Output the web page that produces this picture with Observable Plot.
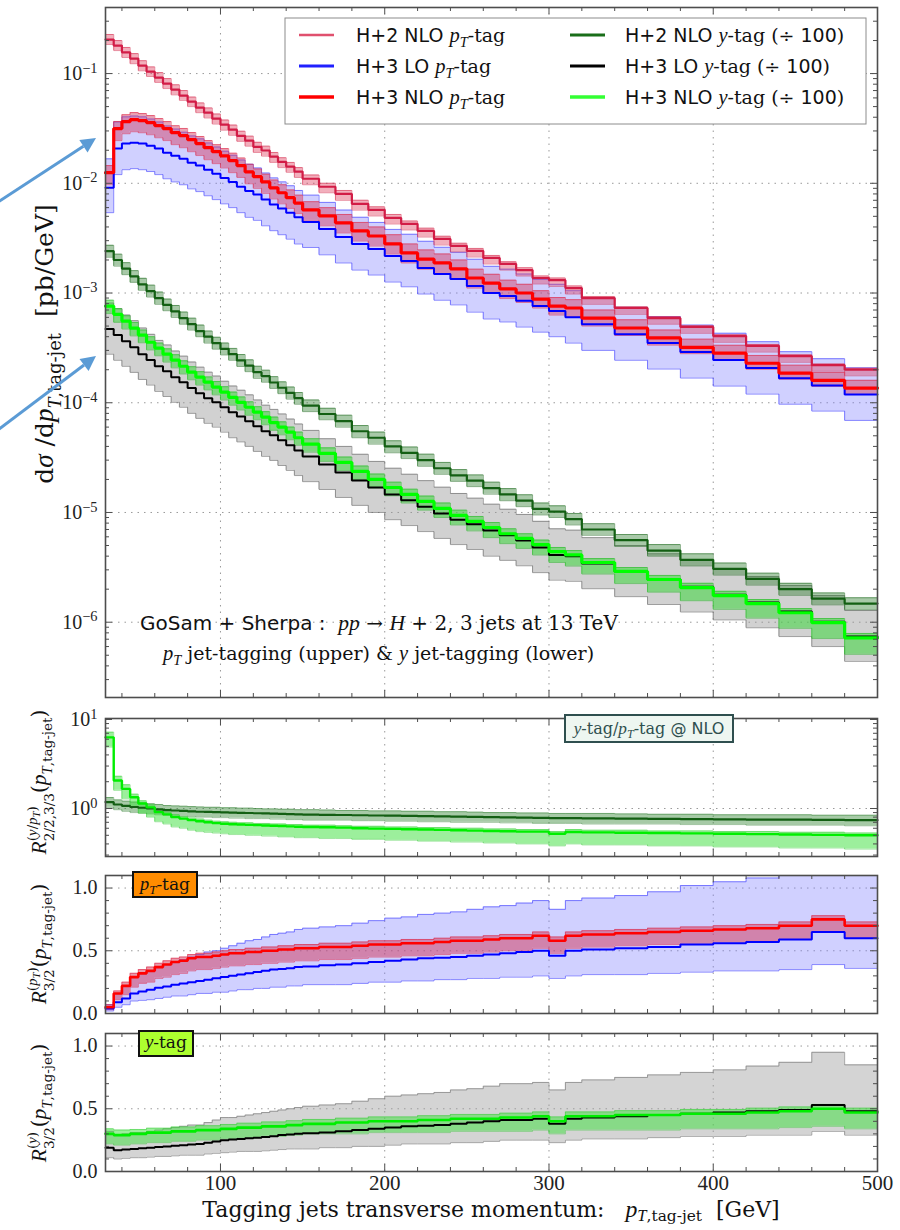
<!DOCTYPE html>
<html>
<head>
<meta charset="utf-8">
<script src="https://cdn.jsdelivr.net/npm/d3@7"></script>
<script src="https://cdn.jsdelivr.net/npm/@observablehq/plot@0.6"></script>
<style>
  body { margin: 0; background: #fff; }
  #fig { position: relative; width: 900px; height: 1230px; overflow: hidden; background: #fff; }
</style>
</head>
<body>
<div id="fig"></div>
<script>
// ---------- binning (GeV) ----------
const binEdges = [30,35,40,45,50,55,60,65,70,75,80,85,90,95,100,105,110,115,120,125,130,135,140,145,
  150,160,170,180,190,200,210,220,230,240,250,260,270,280,290,300,310,
  320,340,360,380,400,420,440,460,480,500];

// ---------- dsigma/dpT [pb/GeV] : pT jet-tagging ----------
const h2ptNLO = [0.204,0.180,0.156,0.137,0.118,0.104,0.0919,0.081,0.0714,0.063,0.0555,0.0489,0.0440,0.0388,0.0342,0.0308,0.0271,0.0245,0.0215,0.0199,0.0175,0.0157,0.0142,0.0128,
  0.0110,0.0093,0.0080,0.0065,0.00573,0.00484,0.00427,0.00368,0.00311,0.00269,0.00242,0.00209,0.00184,0.00162,0.00137,0.00131,0.00111,
  9.0e-4,7.3e-4,5.9e-4,4.9e-4,4.05e-4,3.3e-4,2.66e-4,2.2e-4,2.0e-4];
const h2ptNLOhi = [0.227,0.200,0.173,0.152,0.131,0.115,0.102,0.090,0.079,0.070,0.061,0.054,0.0486,0.0428,0.0377,0.0339,0.0298,0.0269,0.0236,0.0218,0.0191,0.0171,0.0155,0.0139,
  0.0119,0.0100,0.0086,0.0070,0.0061,0.0052,0.00453,0.00390,0.00329,0.00284,0.00255,0.00220,0.00193,0.00170,0.00143,0.00137,0.00116,
  9.3e-4,7.5e-4,6.1e-4,5.05e-4,4.17e-4,3.4e-4,2.74e-4,2.26e-4,2.06e-4];
const h2ptNLOlo = [0.184,0.162,0.140,0.123,0.106,0.094,0.083,0.073,0.064,0.057,0.050,0.044,0.0394,0.0347,0.0305,0.0274,0.0241,0.0218,0.0191,0.0177,0.0155,0.0139,0.0126,0.0113,
  0.0097,0.0082,0.0070,0.0057,0.00504,0.00426,0.00376,0.00324,0.00274,0.00237,0.00213,0.00184,0.00162,0.00143,0.00121,0.00115,0.00098,
  7.9e-4,6.4e-4,5.2e-4,4.3e-4,3.56e-4,2.9e-4,2.34e-4,1.94e-4,1.76e-4];

const h3ptLO = [0.0091,0.0207,0.0230,0.0234,0.0230,0.0220,0.0207,0.0190,0.0178,0.0167,0.0154,0.0145,0.0133,0.0122,0.0112,0.0103,0.0093,0.0085,0.0079,0.0071,0.0064,0.0059,0.0054,0.0049,
  0.00445,0.00384,0.00324,0.00280,0.00252,0.00218,0.00196,0.00169,0.00149,0.00134,0.00116,0.00100,9.4e-4,8.5e-4,7.6e-4,6.85e-4,6.0e-4,
  5.2e-4,4.2e-4,3.5e-4,2.9e-4,2.45e-4,2.07e-4,1.67e-4,1.44e-4,1.19e-4];
const h3ptLOhi = [0.0167,0.0362,0.0403,0.0410,0.0403,0.0385,0.0362,0.0333,0.0312,0.0292,0.0270,0.0254,0.0233,0.0214,0.0196,0.0180,0.0163,0.0149,0.0138,0.0124,0.0112,0.0103,0.0095,0.0086,
  0.0078,0.0067,0.0057,0.0049,0.0044,0.0038,0.00343,0.00296,0.00261,0.00235,0.00203,0.00175,0.00165,0.00149,0.00133,0.0012,0.00105,
  9.1e-4,7.4e-4,6.1e-4,5.1e-4,4.3e-4,3.6e-4,2.92e-4,2.52e-4,2.08e-4];
const h3ptLOlo = [0.0054,0.0120,0.0133,0.0136,0.0133,0.0128,0.0120,0.0110,0.0103,0.0097,0.0089,0.0084,0.0077,0.0071,0.0065,0.0060,0.0054,0.0049,0.0046,0.0041,0.0037,0.0034,0.0031,0.0028,
  0.0026,0.00223,0.00188,0.00162,0.00146,0.00126,0.00114,9.8e-4,8.6e-4,7.8e-4,6.7e-4,5.8e-4,5.45e-4,4.9e-4,4.4e-4,4.0e-4,3.5e-4,
  3.0e-4,2.44e-4,2.03e-4,1.68e-4,1.42e-4,1.2e-4,9.7e-5,8.4e-5,6.9e-5];

const h3ptNLO = [0.0125,0.0315,0.0364,0.0380,0.0372,0.0357,0.0335,0.0315,0.0289,0.0272,0.0250,0.0230,0.0211,0.0194,0.0178,0.0161,0.0145,0.0127,0.0115,0.0103,0.0091,0.0082,0.0074,0.0066,
  0.00573,0.00505,0.00436,0.00368,0.00331,0.00280,0.00232,0.00204,0.00188,0.00166,0.00137,0.00123,0.00109,0.00100,8.8e-4,7.6e-4,7.3e-4,
  5.9e-4,4.8e-4,3.9e-4,3.2e-4,2.83e-4,2.29e-4,1.86e-4,1.6e-4,1.36e-4];
const h3ptNLOhi = [0.0145,0.0366,0.0422,0.0441,0.0432,0.0414,0.0389,0.0365,0.0335,0.0316,0.0290,0.0267,0.0245,0.0225,0.0207,0.0188,0.0170,0.0149,0.0135,0.0121,0.0107,0.0097,0.0087,0.0078,
  0.0068,0.0060,0.0052,0.0044,0.0040,0.0034,0.0028,0.00247,0.00227,0.00200,0.00165,0.00148,0.00131,0.00120,0.00105,9.1e-4,8.7e-4,
  7.0e-4,5.7e-4,4.6e-4,3.8e-4,3.34e-4,2.7e-4,2.2e-4,1.89e-4,1.6e-4];
const h3ptNLOlo = [0.0097,0.0245,0.0283,0.0295,0.0289,0.0277,0.0260,0.0245,0.0225,0.0211,0.0194,0.0179,0.0164,0.0151,0.0138,0.0125,0.0113,0.0099,0.0090,0.0081,0.0072,0.0065,0.0059,0.0053,
  0.0046,0.0041,0.00353,0.00298,0.00268,0.00227,0.00188,0.00165,0.00152,0.00135,0.00111,0.00100,8.9e-4,8.2e-4,7.3e-4,6.3e-4,6.1e-4,
  5.0e-4,4.1e-4,3.35e-4,2.8e-4,2.49e-4,2.02e-4,1.64e-4,1.41e-4,1.2e-4];

// ---------- dsigma/dpT [pb/GeV] / 100 : y jet-tagging ----------
const h2yNLO = [2.41e-3,2.00e-3,1.67e-3,1.42e-3,1.20e-3,1.04e-3,9.0e-4,7.8e-4,6.8e-4,5.9e-4,5.2e-4,4.5e-4,4.0e-4,3.5e-4,3.1e-4,2.77e-4,2.43e-4,2.18e-4,1.90e-4,1.75e-4,1.53e-4,1.37e-4,1.23e-4,1.10e-4,
  9.4e-5,7.9e-5,6.8e-5,5.5e-5,4.8e-5,4.0e-5,3.5e-5,3.0e-5,2.53e-5,2.18e-5,1.95e-5,1.67e-5,1.46e-5,1.28e-5,1.08e-5,1.02e-5,8.7e-6,
  7.0e-6,5.6e-6,4.5e-6,3.7e-6,3.06e-6,2.48e-6,2.0e-6,1.64e-6,1.48e-6];
const h2yNLOhi = [2.72e-3,2.26e-3,1.89e-3,1.60e-3,1.36e-3,1.18e-3,1.02e-3,8.8e-4,7.7e-4,6.7e-4,5.9e-4,5.1e-4,4.5e-4,3.95e-4,3.5e-4,3.13e-4,2.75e-4,2.46e-4,2.15e-4,1.98e-4,1.73e-4,1.55e-4,1.39e-4,1.24e-4,
  1.06e-4,8.9e-5,7.7e-5,6.2e-5,5.4e-5,4.5e-5,3.95e-5,3.4e-5,2.86e-5,2.46e-5,2.2e-5,1.89e-5,1.65e-5,1.45e-5,1.22e-5,1.15e-5,9.8e-6,
  7.9e-6,6.3e-6,5.1e-6,4.2e-6,3.46e-6,2.8e-6,2.26e-6,1.85e-6,1.67e-6];
const h2yNLOlo = [2.12e-3,1.76e-3,1.47e-3,1.25e-3,1.06e-3,9.2e-4,7.9e-4,6.9e-4,6.0e-4,5.2e-4,4.6e-4,4.0e-4,3.5e-4,3.08e-4,2.73e-4,2.44e-4,2.14e-4,1.92e-4,1.67e-4,1.54e-4,1.35e-4,1.21e-4,1.08e-4,9.7e-5,
  8.3e-5,7.0e-5,6.0e-5,4.8e-5,4.2e-5,3.5e-5,3.1e-5,2.64e-5,2.23e-5,1.92e-5,1.72e-5,1.47e-5,1.28e-5,1.13e-5,9.5e-6,9.0e-6,7.7e-6,
  6.2e-6,4.9e-6,4.0e-6,3.26e-6,2.69e-6,2.18e-6,1.76e-6,1.44e-6,1.30e-6];

const h3yLO = [4.69e-4,4.14e-4,3.64e-4,3.21e-4,2.77e-4,2.45e-4,2.15e-4,1.94e-4,1.71e-4,1.54e-4,1.36e-4,1.22e-4,1.10e-4,1.01e-4,9.1e-5,8.2e-5,7.5e-5,6.8e-5,6.1e-5,5.5e-5,5.05e-5,4.55e-5,4.1e-5,3.68e-5,
  3.24e-5,2.74e-5,2.32e-5,1.96e-5,1.69e-5,1.46e-5,1.29e-5,1.13e-5,9.8e-6,8.6e-6,7.8e-6,6.85e-6,6.2e-6,5.55e-6,4.8e-6,4.1e-6,4.0e-6,
  3.42e-6,2.9e-6,2.45e-6,2.11e-6,1.78e-6,1.51e-6,1.25e-6,1.01e-6,7.4e-7];
const h3yLOhi = [8.1e-4,7.2e-4,6.3e-4,5.6e-4,4.8e-4,4.2e-4,3.7e-4,3.36e-4,2.96e-4,2.66e-4,2.35e-4,2.11e-4,1.90e-4,1.75e-4,1.57e-4,1.42e-4,1.30e-4,1.18e-4,1.06e-4,9.5e-5,8.7e-5,7.9e-5,7.1e-5,6.4e-5,
  5.6e-5,4.7e-5,4.0e-5,3.39e-5,2.92e-5,2.53e-5,2.23e-5,1.95e-5,1.70e-5,1.49e-5,1.35e-5,1.19e-5,1.07e-5,9.6e-6,8.3e-6,7.1e-6,6.9e-6,
  5.9e-6,5.0e-6,4.2e-6,3.65e-6,3.08e-6,2.61e-6,2.16e-6,1.75e-6,1.28e-6];
const h3yLOlo = [2.77e-4,2.44e-4,2.15e-4,1.89e-4,1.63e-4,1.45e-4,1.27e-4,1.14e-4,1.01e-4,9.1e-5,8.0e-5,7.2e-5,6.5e-5,6.0e-5,5.4e-5,4.8e-5,4.4e-5,4.0e-5,3.6e-5,3.25e-5,2.98e-5,2.68e-5,2.42e-5,2.17e-5,
  1.91e-5,1.62e-5,1.37e-5,1.16e-5,1.0e-5,8.6e-6,7.6e-6,6.7e-6,5.8e-6,5.1e-6,4.6e-6,4.0e-6,3.66e-6,3.27e-6,2.83e-6,2.42e-6,2.36e-6,
  2.02e-6,1.71e-6,1.45e-6,1.24e-6,1.05e-6,8.9e-7,7.4e-7,6.0e-7,4.4e-7];

const h3yNLO = [7.6e-4,6.4e-4,5.55e-4,4.79e-4,4.14e-4,3.56e-4,3.15e-4,2.77e-4,2.45e-4,2.15e-4,1.90e-4,1.71e-4,1.54e-4,1.39e-4,1.25e-4,1.12e-4,1.01e-4,9.1e-5,8.2e-5,7.4e-5,6.6e-5,6.0e-5,5.4e-5,4.8e-5,
  4.2e-5,3.46e-5,2.86e-5,2.37e-5,2.0e-5,1.69e-5,1.46e-5,1.26e-5,1.09e-5,9.4e-6,8.3e-6,7.3e-6,6.4e-6,5.8e-6,5.1e-6,4.4e-6,4.1e-6,
  3.5e-6,2.9e-6,2.45e-6,2.07e-6,1.75e-6,1.48e-6,1.22e-6,9.9e-7,7.2e-7];
const h3yNLOhi = [8.6e-4,7.2e-4,6.2e-4,5.4e-4,4.6e-4,4.0e-4,3.5e-4,3.1e-4,2.74e-4,2.41e-4,2.13e-4,1.92e-4,1.72e-4,1.56e-4,1.40e-4,1.25e-4,1.13e-4,1.02e-4,9.2e-5,8.3e-5,7.4e-5,6.7e-5,6.0e-5,5.4e-5,
  4.7e-5,3.88e-5,3.2e-5,2.65e-5,2.24e-5,1.89e-5,1.63e-5,1.41e-5,1.22e-5,1.05e-5,9.2e-6,8.1e-6,7.1e-6,6.4e-6,5.6e-6,4.8e-6,4.5e-6,
  3.8e-6,3.15e-6,2.67e-6,2.26e-6,1.91e-6,1.61e-6,1.33e-6,1.08e-6,7.9e-7];
const h3yNLOlo = [6.5e-4,5.4e-4,4.7e-4,4.07e-4,3.52e-4,3.03e-4,2.68e-4,2.35e-4,2.08e-4,1.83e-4,1.62e-4,1.45e-4,1.31e-4,1.18e-4,1.06e-4,9.5e-5,8.6e-5,7.7e-5,7.0e-5,6.3e-5,5.6e-5,5.1e-5,4.6e-5,4.1e-5,
  3.55e-5,2.92e-5,2.41e-5,2.0e-5,1.68e-5,1.42e-5,1.22e-5,1.05e-5,9.0e-6,7.7e-6,6.8e-6,5.9e-6,5.2e-6,4.7e-6,4.1e-6,3.5e-6,3.25e-6,
  2.75e-6,2.25e-6,1.88e-6,1.57e-6,1.31e-6,1.09e-6,8.8e-7,7.1e-7,5.1e-7];

// ---------- ratio y-tag / pT-tag at NLO ----------
const r1h2 = [1.18,1.11,1.07,1.04,1.02,1.00,0.98,0.96,0.95,0.94,0.93,0.92,0.915,0.91,0.905,0.90,0.895,0.89,0.885,0.88,0.875,0.87,0.865,0.86,
  0.855,0.85,0.845,0.84,0.835,0.83,0.825,0.82,0.815,0.81,0.805,0.80,0.795,0.79,0.785,0.78,0.78,
  0.775,0.77,0.765,0.76,0.755,0.75,0.75,0.745,0.74];
const r1h2hi = [1.33,1.25,1.21,1.18,1.15,1.13,1.11,1.08,1.07,1.06,1.05,1.04,1.03,1.03,1.02,1.02,1.01,1.01,1.0,0.99,0.99,0.98,0.98,0.97,
  0.97,0.96,0.95,0.95,0.94,0.94,0.93,0.93,0.92,0.92,0.91,0.90,0.90,0.89,0.89,0.88,0.88,
  0.88,0.87,0.86,0.86,0.85,0.85,0.85,0.84,0.84];
const r1h2lo = [1.03,0.97,0.93,0.90,0.89,0.87,0.85,0.84,0.83,0.82,0.81,0.80,0.80,0.79,0.79,0.78,0.78,0.77,0.77,0.77,0.76,0.76,0.75,0.75,
  0.74,0.74,0.74,0.73,0.73,0.72,0.72,0.71,0.71,0.70,0.70,0.70,0.69,0.69,0.68,0.68,0.68,
  0.67,0.67,0.67,0.66,0.66,0.65,0.65,0.65,0.64];
const r1h3 = [6.3,2.06,1.66,1.34,1.14,1.03,0.91,0.86,0.80,0.77,0.74,0.72,0.70,0.685,0.675,0.665,0.66,0.655,0.65,0.645,0.64,0.635,0.63,0.625,
  0.62,0.615,0.61,0.60,0.595,0.59,0.585,0.58,0.575,0.57,0.565,0.56,0.555,0.55,0.55,0.52,0.545,
  0.54,0.535,0.53,0.525,0.52,0.515,0.51,0.505,0.50];
const r1h3hi = [7.2,2.3,1.85,1.45,1.22,1.10,0.97,0.91,0.85,0.81,0.78,0.76,0.74,0.72,0.71,0.70,0.69,0.69,0.68,0.68,0.67,0.67,0.66,0.66,
  0.65,0.65,0.64,0.63,0.63,0.62,0.62,0.61,0.61,0.60,0.60,0.59,0.59,0.58,0.58,0.55,0.58,
  0.57,0.57,0.56,0.56,0.55,0.55,0.54,0.54,0.53];
const r1h3lo = [4.9,1.6,1.28,1.03,0.88,0.80,0.71,0.67,0.62,0.60,0.57,0.55,0.54,0.53,0.52,0.51,0.51,0.50,0.50,0.49,0.49,0.48,0.48,0.47,
  0.47,0.46,0.46,0.45,0.45,0.44,0.44,0.43,0.43,0.42,0.42,0.41,0.41,0.40,0.40,0.38,0.40,
  0.39,0.39,0.38,0.38,0.37,0.37,0.36,0.36,0.35];

// ---------- ratio H+3 / H+2, pT-tag ----------
const r2nlo = [0.05,0.16,0.22,0.29,0.32,0.34,0.37,0.39,0.41,0.42,0.44,0.45,0.45,0.46,0.47,0.48,0.48,0.49,0.49,0.50,0.50,0.51,0.51,0.52,
  0.52,0.53,0.53,0.54,0.55,0.55,0.56,0.56,0.57,0.58,0.58,0.59,0.60,0.60,0.62,0.58,0.62,
  0.63,0.64,0.65,0.66,0.67,0.68,0.70,0.75,0.70];
const r2nlohi = [0.07,0.18,0.25,0.32,0.35,0.37,0.40,0.42,0.44,0.45,0.47,0.48,0.48,0.49,0.50,0.51,0.51,0.52,0.52,0.53,0.53,0.54,0.54,0.55,
  0.55,0.56,0.56,0.57,0.58,0.58,0.59,0.59,0.60,0.61,0.61,0.62,0.63,0.63,0.65,0.61,0.65,
  0.66,0.67,0.68,0.69,0.70,0.71,0.73,0.78,0.73];
const r2nlolo = [0.03,0.11,0.15,0.21,0.24,0.25,0.28,0.29,0.31,0.32,0.34,0.35,0.35,0.36,0.37,0.38,0.38,0.39,0.39,0.40,0.40,0.41,0.41,0.42,
  0.42,0.43,0.43,0.44,0.45,0.45,0.46,0.46,0.47,0.48,0.48,0.49,0.50,0.50,0.52,0.48,0.52,
  0.53,0.54,0.55,0.56,0.57,0.58,0.60,0.65,0.60];
const r2lo = [0.04,0.09,0.12,0.16,0.175,0.19,0.205,0.215,0.23,0.24,0.25,0.26,0.27,0.28,0.29,0.30,0.31,0.32,0.33,0.34,0.35,0.355,0.36,0.37,
  0.375,0.385,0.39,0.40,0.41,0.42,0.43,0.44,0.445,0.45,0.46,0.47,0.48,0.49,0.50,0.46,0.50,
  0.51,0.52,0.53,0.55,0.56,0.57,0.59,0.65,0.60];
const r2lohi = [0.07,0.16,0.22,0.29,0.32,0.34,0.37,0.39,0.41,0.43,0.45,0.47,0.49,0.50,0.52,0.54,0.56,0.58,0.59,0.61,0.63,0.64,0.65,0.67,
  0.68,0.69,0.70,0.72,0.74,0.76,0.77,0.79,0.80,0.81,0.83,0.85,0.86,0.88,0.90,0.83,0.90,
  0.92,0.94,0.97,1.02,1.05,1.08,1.12,1.20,1.15];
const r2lolo = [0.02,0.05,0.07,0.10,0.105,0.11,0.12,0.13,0.14,0.14,0.15,0.16,0.16,0.17,0.17,0.18,0.19,0.19,0.20,0.20,0.21,0.21,0.22,0.22,
  0.23,0.23,0.23,0.24,0.25,0.25,0.26,0.26,0.27,0.27,0.28,0.28,0.29,0.29,0.30,0.28,0.30,
  0.31,0.31,0.32,0.33,0.34,0.34,0.35,0.39,0.36];

// ---------- ratio H+3 / H+2, y-tag ----------
const r3nlo = [0.30,0.29,0.29,0.30,0.30,0.31,0.31,0.31,0.32,0.32,0.32,0.33,0.33,0.33,0.34,0.34,0.35,0.35,0.35,0.36,0.36,0.36,0.37,0.37,
  0.38,0.38,0.39,0.39,0.40,0.40,0.40,0.41,0.41,0.42,0.42,0.42,0.43,0.43,0.44,0.40,0.44,
  0.44,0.45,0.45,0.46,0.46,0.47,0.48,0.50,0.47];
const r3nlohi = [0.34,0.33,0.33,0.335,0.335,0.345,0.345,0.345,0.355,0.355,0.355,0.365,0.365,0.365,0.375,0.375,0.385,0.385,0.385,0.395,0.395,0.395,0.405,0.405,
  0.415,0.415,0.425,0.425,0.435,0.435,0.435,0.445,0.445,0.455,0.455,0.455,0.465,0.465,0.475,0.435,0.475,
  0.475,0.485,0.485,0.495,0.495,0.505,0.515,0.535,0.505];
const r3nlolo = [0.22,0.21,0.21,0.22,0.22,0.23,0.23,0.23,0.24,0.24,0.24,0.25,0.25,0.25,0.26,0.26,0.27,0.27,0.27,0.28,0.28,0.28,0.29,0.29,
  0.30,0.30,0.30,0.30,0.31,0.31,0.31,0.31,0.31,0.32,0.32,0.32,0.32,0.32,0.33,0.30,0.33,
  0.33,0.33,0.33,0.34,0.34,0.34,0.35,0.36,0.34];
const r3lo = [0.19,0.17,0.175,0.18,0.185,0.19,0.195,0.20,0.205,0.21,0.215,0.22,0.23,0.24,0.25,0.255,0.26,0.265,0.27,0.275,0.28,0.29,0.295,0.30,
  0.305,0.31,0.32,0.33,0.34,0.35,0.36,0.365,0.37,0.38,0.39,0.40,0.41,0.41,0.42,0.38,0.42,
  0.43,0.44,0.45,0.46,0.47,0.48,0.49,0.53,0.48];
const r3lohi = [0.32,0.29,0.30,0.31,0.31,0.32,0.33,0.34,0.35,0.36,0.37,0.37,0.39,0.41,0.43,0.43,0.44,0.45,0.46,0.47,0.48,0.49,0.50,0.51,
  0.52,0.53,0.54,0.56,0.58,0.60,0.61,0.62,0.63,0.65,0.66,0.68,0.70,0.70,0.71,0.65,0.71,
  0.73,0.75,0.77,0.79,0.81,0.84,0.87,0.95,0.85];
const r3lolo = [0.11,0.10,0.105,0.11,0.11,0.115,0.12,0.12,0.125,0.13,0.13,0.13,0.14,0.145,0.15,0.155,0.16,0.16,0.16,0.165,0.17,0.175,0.18,0.18,
  0.18,0.19,0.19,0.20,0.20,0.21,0.22,0.22,0.22,0.23,0.23,0.24,0.25,0.25,0.25,0.23,0.25,
  0.26,0.26,0.27,0.28,0.28,0.29,0.29,0.32,0.29];

// ---------- axis ticks ----------
const xTicks = [100, 200, 300, 400, 500];
const mainDecades = [1e-6, 1e-5, 1e-4, 1e-3, 1e-2, 1e-1];
const ratioLogTicks = [1, 10];
const ratioLinTicks = [0, 0.5, 1.0];

// ---------- styling ----------
const NUM = "'Liberation Serif','DejaVu Serif',serif";       // tick numbers
const ROMAN = "'DejaVu Serif','Liberation Serif',serif";     // upright text
const ITAL = "'Liberation Serif','DejaVu Serif',serif";      // math italic
const SANS = "'DejaVu Sans','Liberation Sans',sans-serif";
const FRAME = "#4d4d4d";
const W = 900, ML = 105, MR = 23, PW = W - ML - MR;
const xMinor = d3.range(40, 500, 20).filter(v => v % 100 !== 0);

function logMinor(lo, hi) {
  const out = [];
  for (let e = Math.floor(Math.log10(lo)); e <= Math.ceil(Math.log10(hi)); e++)
    for (let k = 2; k <= 9; k++) { const v = k * Math.pow(10, e); if (v > lo && v < hi) out.push(v); }
  return out;
}

function stepRows(c, lo, hi) {
  const rows = [];
  c.forEach((v, i) => {
    rows.push({x: binEdges[i], y: v, lo: lo[i], hi: hi[i]});
    rows.push({x: binEdges[i + 1], y: v, lo: lo[i], hi: hi[i]});
  });
  return rows;
}
function band(rows, fill, fillOpacity, edge, edgeOpacity = 0.75, edgeWidth = 0.9) {
  return [
    Plot.areaY(rows, {x: "x", y1: "lo", y2: "hi", fill, fillOpacity}),
    Plot.line(rows, {x: "x", y: "lo", stroke: edge, strokeWidth: edgeWidth, strokeOpacity: edgeOpacity}),
    Plot.line(rows, {x: "x", y: "hi", stroke: edge, strokeWidth: edgeWidth, strokeOpacity: edgeOpacity})
  ];
}
function centre(rows, stroke, strokeWidth) {
  return Plot.line(rows, {x: "x", y: "y", stroke, strokeWidth, strokeLinejoin: "miter"});
}
function frameTicks(yMajor, yMinor, h) {
  const s = {stroke: FRAME, strokeWidth: 1};
  return [
    Plot.tickX(xTicks, {x: d => d, ...s, insetTop: h - 7}),
    Plot.tickX(xTicks, {x: d => d, ...s, insetBottom: h - 7}),
    Plot.tickX(xMinor, {x: d => d, ...s, insetTop: h - 4}),
    Plot.tickX(xMinor, {x: d => d, ...s, insetBottom: h - 4}),
    Plot.tickY(yMajor, {y: d => d, ...s, insetRight: PW - 7}),
    Plot.tickY(yMajor, {y: d => d, ...s, insetLeft: PW - 7}),
    Plot.tickY(yMinor, {y: d => d, ...s, insetRight: PW - 4}),
    Plot.tickY(yMinor, {y: d => d, ...s, insetLeft: PW - 4})
  ];
}
const gridStyle = {stroke: "#9a9a9a", strokeOpacity: 1, strokeWidth: 1, strokeDasharray: "1.5,5"};
const plotStyle = {fontFamily: NUM, fontSize: "20px", color: "#222", background: "transparent", overflow: "visible"};

function powerLabels(svg) {
  const NS = "http://www.w3.org/2000/svg";
  svg.querySelectorAll('g[aria-label="y-axis tick label"] text').forEach(t => {
    const m = /^10\^(-?\d+)$/.exec(t.textContent);
    if (!m) return;
    t.textContent = "";
    const a = document.createElementNS(NS, "tspan"); a.textContent = "10"; t.appendChild(a);
    const b = document.createElementNS(NS, "tspan");
    b.textContent = m[1].replace("-", "\u2212");
    b.setAttribute("dy", "-0.5em"); b.setAttribute("font-size", "0.72em");
    t.appendChild(b);
  });
}

const fig = document.getElementById("fig");
function place(svg, top) {
  svg.style.position = "absolute"; svg.style.left = "0px"; svg.style.top = top + "px";
  fig.appendChild(svg);
}

// ---------- main panel ----------
const mainH = 705, mainMT = 7, mainMB = 8, mainPH = mainH - mainMT - mainMB;
const rH2pt = stepRows(h2ptNLO, h2ptNLOlo, h2ptNLOhi);
const rH3ptLO = stepRows(h3ptLO, h3ptLOlo, h3ptLOhi);
const rH3ptNLO = stepRows(h3ptNLO, h3ptNLOlo, h3ptNLOhi);
const rH2y = stepRows(h2yNLO, h2yNLOlo, h2yNLOhi);
const rH3yLO = stepRows(h3yLO, h3yLOlo, h3yLOhi);
const rH3yNLO = stepRows(h3yNLO, h3yNLOlo, h3yNLOhi);
const mainDomain = [2.06e-7, 0.4];

const mainSvg = Plot.plot({
  width: W, height: mainH, marginLeft: ML, marginRight: MR, marginTop: mainMT, marginBottom: mainMB,
  style: plotStyle,
  x: {domain: [30, 500], axis: null},
  y: {type: "log", domain: mainDomain},
  marks: [
    Plot.gridX([100, 200, 300, 400], gridStyle),
    Plot.gridY(mainDecades, gridStyle),
    ...band(rH3ptLO, "#7d7dff", 0.36, "#4b4bff"),
    ...band(rH2pt, "#e0405f", 0.42, "#d42a4c", 0.6),
    ...band(rH3ptNLO, "#d2365a", 0.45, "#e02040", 0.6),
    ...band(rH3yLO, "#9a9a9a", 0.45, "#6e6e6e"),
    ...band(rH2y, "#2f7f2f", 0.42, "#1f6a1f", 0.6),
    ...band(rH3yNLO, "#2ed82e", 0.5, "#22b422", 0.6),
    centre(rH2pt, "#d21c46", 2.2),
    centre(rH3ptLO, "#0000ff", 2),
    centre(rH3ptNLO, "#ff0000", 3.2),
    centre(rH2y, "#135f13", 2.2),
    centre(rH3yLO, "#000000", 2),
    centre(rH3yNLO, "#00ff00", 3.2),
    ...frameTicks(mainDecades, logMinor(...mainDomain), mainPH),
    Plot.axisY({ticks: mainDecades, tickSize: 0, tickPadding: 8, label: null,
      tickFormat: d => "10^" + Math.round(Math.log10(d))}),
    Plot.frame({stroke: FRAME, strokeWidth: 1.6})
  ]
});
powerLabels(mainSvg);
place(mainSvg, 0);

// ---------- ratio panel: y-tag / pT-tag ----------
const pH = 138;
const r1Domain = [0.289, 10.26];
const p1 = Plot.plot({
  width: W, height: 150, marginLeft: ML, marginRight: MR, marginTop: 8, marginBottom: 4,
  style: plotStyle,
  x: {domain: [30, 500], axis: null},
  y: {type: "log", domain: r1Domain, clamp: true},
  marks: [
    Plot.gridX([100, 200, 300, 400], gridStyle),
    Plot.gridY([1], gridStyle),
    ...band(stepRows(r1h2, r1h2lo, r1h2hi), "#3a8a3a", 0.45, "#2a7a2a", 0.5),
    ...band(stepRows(r1h3, r1h3lo, r1h3hi), "#3ae03a", 0.5, "#30c830", 0.5),
    centre(stepRows(r1h2, r1h2lo, r1h2hi), "#135f13", 2.2),
    centre(stepRows(r1h3, r1h3lo, r1h3hi), "#00ee00", 2.4),
    ...frameTicks(ratioLogTicks, logMinor(...r1Domain), pH),
    Plot.axisY({ticks: ratioLogTicks, tickSize: 0, tickPadding: 8, label: null,
      tickFormat: d => "10^" + Math.round(Math.log10(d))}),
    Plot.frame({stroke: FRAME, strokeWidth: 1.6})
  ]
});
powerLabels(p1);
place(p1, 710);

// ---------- ratio panel: H+3 / H+2, pT-tag ----------
const linMinor = d3.range(1, 11).map(k => k / 10).filter(v => Math.abs(v - 0.5) > 1e-9 && Math.abs(v - 1) > 1e-9);
const p2 = Plot.plot({
  width: W, height: 150, marginLeft: ML, marginRight: MR, marginTop: 9, marginBottom: 3,
  style: plotStyle,
  x: {domain: [30, 500], axis: null},
  y: {domain: [0, 1.1], clamp: true},
  marks: [
    Plot.gridX([100, 200, 300, 400], gridStyle),
    Plot.gridY([0.5, 1.0], gridStyle),
    ...band(stepRows(r2lo, r2lolo, r2lohi), "#7d7dff", 0.36, "#4b4bff"),
    ...band(stepRows(r2nlo, r2nlolo, r2nlohi), "#d2365a", 0.5, "#e02040", 0.6),
    centre(stepRows(r2lo, r2lolo, r2lohi), "#0000ff", 2),
    centre(stepRows(r2nlo, r2nlolo, r2nlohi), "#ff0000", 2.6),
    ...frameTicks(ratioLinTicks, linMinor, pH),
    Plot.axisY({ticks: ratioLinTicks, tickSize: 0, tickPadding: 8, label: null, tickFormat: d => d.toFixed(1)}),
    Plot.frame({stroke: FRAME, strokeWidth: 1.6})
  ]
});
place(p2, 866);

// ---------- ratio panel: H+3 / H+2, y-tag ----------
const p3 = Plot.plot({
  width: W, height: 205, marginLeft: ML, marginRight: MR, marginTop: 8, marginBottom: 59,
  style: plotStyle,
  x: {domain: [30, 500]},
  y: {domain: [0, 1.1], clamp: true},
  marks: [
    Plot.gridX([100, 200, 300, 400], gridStyle),
    Plot.gridY([0.5, 1.0], gridStyle),
    ...band(stepRows(r3lo, r3lolo, r3lohi), "#a0a0a0", 0.45, "#7a7a7a"),
    ...band(stepRows(r3nlo, r3nlolo, r3nlohi), "#3ae03a", 0.5, "#30c830", 0.5),
    centre(stepRows(r3lo, r3lolo, r3lohi), "#000000", 2),
    centre(stepRows(r3nlo, r3nlolo, r3nlohi), "#00ee00", 2.6),
    ...frameTicks(ratioLinTicks, linMinor, pH),
    Plot.axisY({ticks: ratioLinTicks, tickSize: 0, tickPadding: 8, label: null, tickFormat: d => d.toFixed(1)}),
    Plot.axisX({ticks: xTicks, tickSize: 0, tickPadding: 4, label: null, fontSize: 21, tickFormat: d => String(d)}),
    Plot.frame({stroke: FRAME, strokeWidth: 1.6})
  ]
});
place(p3, 1025);

// ---------- overlay: legend, annotations, axis titles ----------
const NS = "http://www.w3.org/2000/svg";
const ov = document.createElementNS(NS, "svg");
ov.setAttribute("width", 900); ov.setAttribute("height", 1230);
ov.style.position = "absolute"; ov.style.left = "0px"; ov.style.top = "0px"; ov.style.zIndex = 10;
fig.appendChild(ov);

function el(name, attrs, parent = ov) {
  const e = document.createElementNS(NS, name);
  for (const k in attrs) e.setAttribute(k, attrs[k]);
  parent.appendChild(e);
  return e;
}
// Mixed-font text runs: i = math italic, s = size factor, dy = baseline shift (em),
// mark/back/end stack a subscript under a superscript.
function rich(parts, {x, y, size, anchor = "start", rotate = 0, fill = "#111", font = ROMAN}) {
  const g = el("g", {});
  let cx = 0, markX = 0, maxX = 0;
  for (const p of parts) {
    if (p.mark) markX = cx;
    if (p.back) cx = markX;
    const fs = size * (p.s || 1) * (p.i ? 1.08 : 1);
    const t = el("text", {x: cx, y: (p.dy || 0) * size, "font-family": p.f || (p.i ? ITAL : font),
      "font-size": fs, fill: p.fill || fill}, g);
    if (p.i) t.setAttribute("font-style", "italic");
    t.style.whiteSpace = "pre";
    t.textContent = p.t;
    cx += t.getComputedTextLength() + (p.gap || 0) * size;
    maxX = Math.max(maxX, cx);
    if (p.end) cx = maxX;
  }
  const off = anchor === "middle" ? -maxX / 2 : anchor === "end" ? -maxX : 0;
  g.setAttribute("transform", `translate(${x},${y}) rotate(${rotate}) translate(${off},0)`);
  return g;
}

// legend
el("rect", {x: 285, y: 18, width: 581, height: 106, fill: "#fff", stroke: "#8c8c8c", "stroke-width": 1});
const pT = [{t: "p", i: 1}, {t: "T", i: 1, s: 0.7, dy: 0.25}];
const legend = [
  {col: 0, row: 0, color: "#e0506e", w: 2.5, parts: [{t: "H+2 NLO ", f: SANS}, ...pT, {t: "-tag"}]},
  {col: 0, row: 1, color: "#2020ff", w: 3, parts: [{t: "H+3 LO ", f: SANS}, ...pT, {t: "-tag"}]},
  {col: 0, row: 2, color: "#ff0000", w: 3.5, parts: [{t: "H+3 NLO ", f: SANS}, ...pT, {t: "-tag"}]},
  {col: 1, row: 0, color: "#1a6e1a", w: 3, parts: [{t: "H+2 NLO ", f: SANS}, {t: "y", i: 1}, {t: "-tag (÷ "}, {t: "100", f: SANS}, {t: ")"}]},
  {col: 1, row: 1, color: "#000000", w: 3, parts: [{t: "H+3 LO ", f: SANS}, {t: "y", i: 1}, {t: "-tag (÷ "}, {t: "100", f: SANS}, {t: ")"}]},
  {col: 1, row: 2, color: "#33ff33", w: 3.5, parts: [{t: "H+3 NLO ", f: SANS}, {t: "y", i: 1}, {t: "-tag (÷ "}, {t: "100", f: SANS}, {t: ")"}]}
];
for (const L of legend) {
  const cy = 35 + L.row * 31;
  const lx = L.col === 0 ? 299 : 570, tx = L.col === 0 ? 356 : 625;
  el("line", {x1: lx, x2: lx + 35, y1: cy, y2: cy, stroke: L.color, "stroke-width": L.w});
  rich(L.parts, {x: tx, y: cy + 7, size: 19});
}

// process annotation
rich([{t: "GoSam + Sherpa :", f: SANS}, {t: "  "}, {t: "pp", i: 1}, {t: " → "}, {t: "H", i: 1},
  {t: " + 2, 3 jets at 13 TeV"}], {x: 140, y: 630, size: 20});
rich([...pT, {t: " jet-tagging (upper) & "}, {t: "y", i: 1},
  {t: " jet-tagging (lower)"}], {x: 163, y: 660, size: 19});

// ratio panel tags
el("rect", {x: 565, y: 715, width: 168, height: 27, fill: "#eef6f1", stroke: "#2f4f4f", "stroke-width": 2});
rich([{t: "y", i: 1}, {t: "-tag/"}, ...pT, {t: "-tag "}, {t: "@ NLO", f: SANS}],
  {x: 649, y: 734, size: 16, anchor: "middle", fill: "#2f4f4f"});
el("rect", {x: 133, y: 872, width: 64, height: 25, fill: "#ff8c00", stroke: "#111", "stroke-width": 2});
rich([...pT, {t: "-tag"}], {x: 165, y: 890, size: 17, anchor: "middle"});
el("rect", {x: 139, y: 1031, width: 54, height: 25, fill: "#adff2f", stroke: "#111", "stroke-width": 2});
rich([{t: "y", i: 1}, {t: "-tag"}], {x: 166, y: 1048, size: 17, anchor: "middle"});

// axis titles
rich([{t: "d"}, {t: "σ", i: 1}, {t: " /d"}, {t: "p", i: 1}, {t: "T", i: 1, s: 0.72, dy: 0.3}, {t: ",tag-jet", s: 0.72, dy: 0.3},
  {t: "  [pb/GeV]"}], {x: 53, y: 344, size: 25, anchor: "middle", rotate: -90});
const argPT = [{t: "("}, {t: "p", i: 1}, {t: "T", i: 1, s: 0.68, dy: 0.3}, {t: ",tag-jet", s: 0.68, dy: 0.3}, {t: ")"}];
const sup = (t, extra = {}) => ({t, s: 0.68, dy: -0.45, ...extra});
rich([{t: "R", i: 1},
  sup("(", {mark: 1}), sup("y", {i: 1}), sup("/"), sup("p", {i: 1}), {t: "T", i: 1, s: 0.5, dy: -0.3}, sup(")"),
  {t: "2/2,3/3", s: 0.68, dy: 0.38, back: 1, end: 1}, ...argPT],
  {x: 46, y: 782, size: 20, anchor: "middle", rotate: -90});
rich([{t: "R", i: 1},
  sup("(", {mark: 1}), sup("p", {i: 1}), {t: "T", i: 1, s: 0.5, dy: -0.3}, sup(")"),
  {t: "3/2", s: 0.68, dy: 0.38, back: 1, end: 1}, ...argPT],
  {x: 46, y: 944, size: 20, anchor: "middle", rotate: -90});
rich([{t: "R", i: 1},
  sup("(", {mark: 1}), sup("y", {i: 1}), sup(")"),
  {t: "3/2", s: 0.68, dy: 0.38, back: 1, end: 1}, ...argPT],
  {x: 46, y: 1103, size: 20, anchor: "middle", rotate: -90});
rich([{t: "Tagging jets transverse momentum:   "}, {t: "p", i: 1}, {t: "T", i: 1, s: 0.7, dy: 0.2},
  {t: ",tag-jet", s: 0.7, dy: 0.2}, {t: "  [GeV]"}], {x: 491, y: 1217, size: 22, anchor: "middle"});

// pointer arrows on the left margin
function arrow(x0, y0, x1, y1) {
  const dx = x1 - x0, dy = y1 - y0, L = Math.hypot(dx, dy), ux = dx / L, uy = dy / L;
  const hl = 15, hw = 7.5, bx = x1 - ux * hl, by = y1 - uy * hl;
  el("line", {x1: x0, y1: y0, x2: bx, y2: by, stroke: "#5b9bd5", "stroke-width": 3});
  el("polygon", {points: `${x1},${y1} ${bx - uy * hw},${by + ux * hw} ${bx + uy * hw},${by - ux * hw}`, fill: "#5b9bd5"});
}
arrow(-2, 202, 96, 138);
arrow(-2, 430, 96, 356);
</script>
</body>
</html>
